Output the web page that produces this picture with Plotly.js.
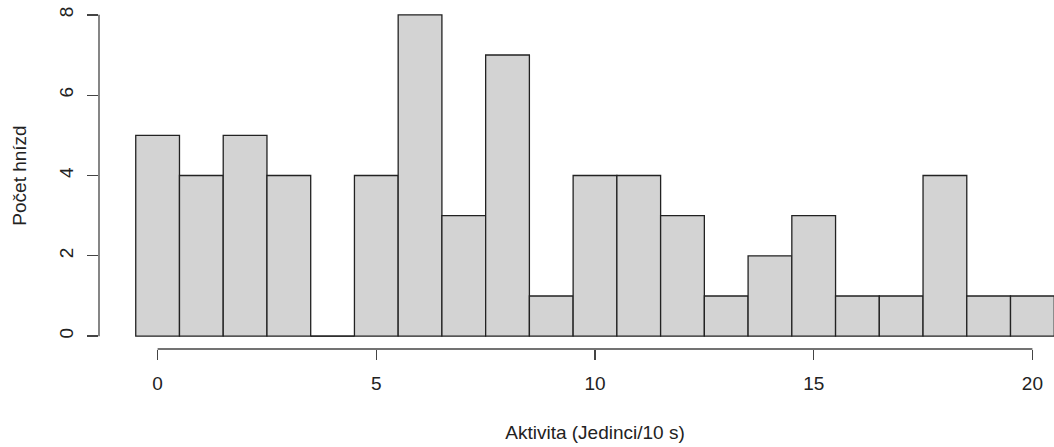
<!DOCTYPE html>
<html>
<head>
<meta charset="utf-8">
<script src="https://cdn.plot.ly/plotly-3.0.1.min.js"></script>
<style>
html,body{margin:0;padding:0;overflow:hidden;background:#fff;}
#chart{width:1092px;height:447px;}
</style>
</head>
<body>
<div id="chart"></div>
<script>
// Data
const activity = [0,1,2,3,4,5,6,7,8,9,10,11,12,13,14,15,16,17,18,19,20];
const nestCount = [5,4,5,4,0,4,8,3,7,1,4,4,3,1,2,3,1,1,4,1,1];
const xTickVals = [0,5,10,15,20];
const yTickVals = [0,2,4,6,8];
const xTitle = 'Aktivita (Jedinci/10 s)';
const yTitle = 'Počet hnízd';

const xRange = [-1.34, 21.34];
const yRange = [-0.32, 8.32];
const px = v => (v - xRange[0]) / (xRange[1] - xRange[0]);
const py = v => (v - yRange[0]) / (yRange[1] - yRange[0]);

const font = {family: 'Liberation Sans, Arial, sans-serif', size: 19, color: '#222'};
const axisCol = '#444';

const trace = {
  type: 'bar',
  x: activity,
  y: nestCount,
  width: 1,
  marker: {color: '#D3D3D3', line: {color: '#222', width: 1.3}},
  hoverinfo: 'x+y'
};

const layout = {
  width: 1092, height: 447,
  margin: {l: 99, r: 1, t: 2, b: 98},
  paper_bgcolor: '#fff', plot_bgcolor: '#fff',
  font: font,
  showlegend: false,
  bargap: 0,
  xaxis: {
    range: xRange, showgrid: false, zeroline: false, showline: false,
    tickmode: 'array', tickvals: xTickVals, ticktext: xTickVals.map(String),
    ticks: 'outside', ticklen: 10, tickwidth: 1.3, tickcolor: axisCol,
    ticklabelstandoff: 7,
    tickfont: font,
    title: {text: xTitle, font: font, standoff: 32}
  },
  yaxis: {
    range: yRange, showgrid: false, zeroline: false, showline: false,
    tickmode: 'array', tickvals: yTickVals, ticktext: yTickVals.map(String),
    ticks: 'outside', ticklen: 11, tickwidth: 1.3, tickcolor: axisCol,
    ticklabelstandoff: 6,
    tickangle: -90, tickfont: font,
    title: {text: yTitle, font: font, standoff: 24}
  },
  shapes: [
    {type: 'line', xref: 'paper', yref: 'paper', x0: px(xTickVals[0]), x1: px(xTickVals[xTickVals.length-1]), y0: 0, y1: 0,
     line: {color: axisCol, width: 1.3}},
    {type: 'line', xref: 'paper', yref: 'paper', x0: 0, x1: 0, y0: py(yTickVals[0]), y1: py(yTickVals[yTickVals.length-1]),
     line: {color: axisCol, width: 1.3}},
    {type: 'line', xref: 'x', yref: 'y', x0: activity[4]-0.5, x1: activity[4]+0.5, y0: 0, y1: 0,
     line: {color: '#222', width: 1.3}}
  ]
};

Plotly.newPlot('chart', [trace], layout, {displayModeBar: false, staticPlot: true});
</script>
</body>
</html>
